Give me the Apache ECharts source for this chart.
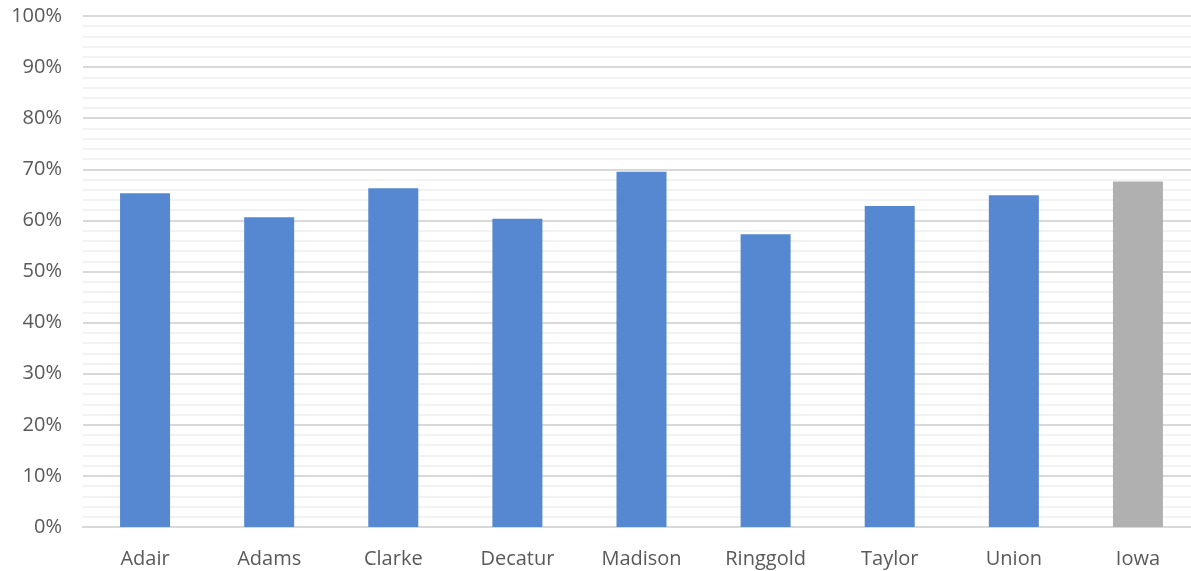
<!DOCTYPE html>
<html>
<head>
<meta charset="utf-8">
<script src="https://cdn.jsdelivr.net/npm/echarts@6/dist/echarts.min.js"></script>
<style>
  html, body { margin: 0; padding: 0; background: #ffffff; overflow: hidden; }
  #chart { width: 1200px; height: 571px; }
</style>
</head>
<body>
<div id="chart"></div>
<script>
// Counties plus the statewide figure, shown as shares (0..1)
const categories = ['Adair', 'Adams', 'Clarke', 'Decatur', 'Madison', 'Ringgold', 'Taylor', 'Union', 'Iowa'];
const values = [0.653, 0.606, 0.663, 0.603, 0.695, 0.573, 0.628, 0.649, 0.676];
const yTicks = [0, 0.1, 0.2, 0.3, 0.4, 0.5, 0.6, 0.7, 0.8, 0.9, 1.0];

const countyColor = '#5588d0';
const stateColor = '#b0b0b0';
const labelFont = '"Open Sans", Lato, sans-serif';

const chart = echarts.init(document.getElementById('chart'), null, { renderer: 'canvas' });

chart.setOption({
  animation: false,
  backgroundColor: '#ffffff',
  grid: { left: 83, top: 16, right: 0, bottom: 44, containLabel: false },
  xAxis: {
    type: 'category',
    data: categories,
    axisLine: { show: true, lineStyle: { color: '#d9d9d9', width: 2 } },
    axisTick: { show: false },
    axisLabel: {
      color: '#595959',
      fontFamily: labelFont,
      fontSize: 20,
      margin: 22
    }
  },
  yAxis: {
    type: 'value',
    min: yTicks[0],
    max: yTicks[yTicks.length - 1],
    interval: 0.1,
    axisLine: { show: false },
    axisTick: { show: false },
    axisLabel: {
      color: '#595959',
      fontFamily: labelFont,
      fontSize: 20,
      margin: 21,
      formatter: v => Math.round(v * 100) + '%'
    },
    splitLine: { show: true, lineStyle: { color: '#d9d9d9', width: 2 } },
    minorTick: { show: false, splitNumber: 5 },
    minorSplitLine: { show: true, lineStyle: { color: '#f2f2f2', width: 2 } }
  },
  series: [{
    type: 'bar',
    barWidth: 50,
    data: values.map((v, i) => ({
      value: v,
      itemStyle: { color: categories[i] === 'Iowa' ? stateColor : countyColor }
    })),
    z: 3
  }]
});
</script>
</body>
</html>
